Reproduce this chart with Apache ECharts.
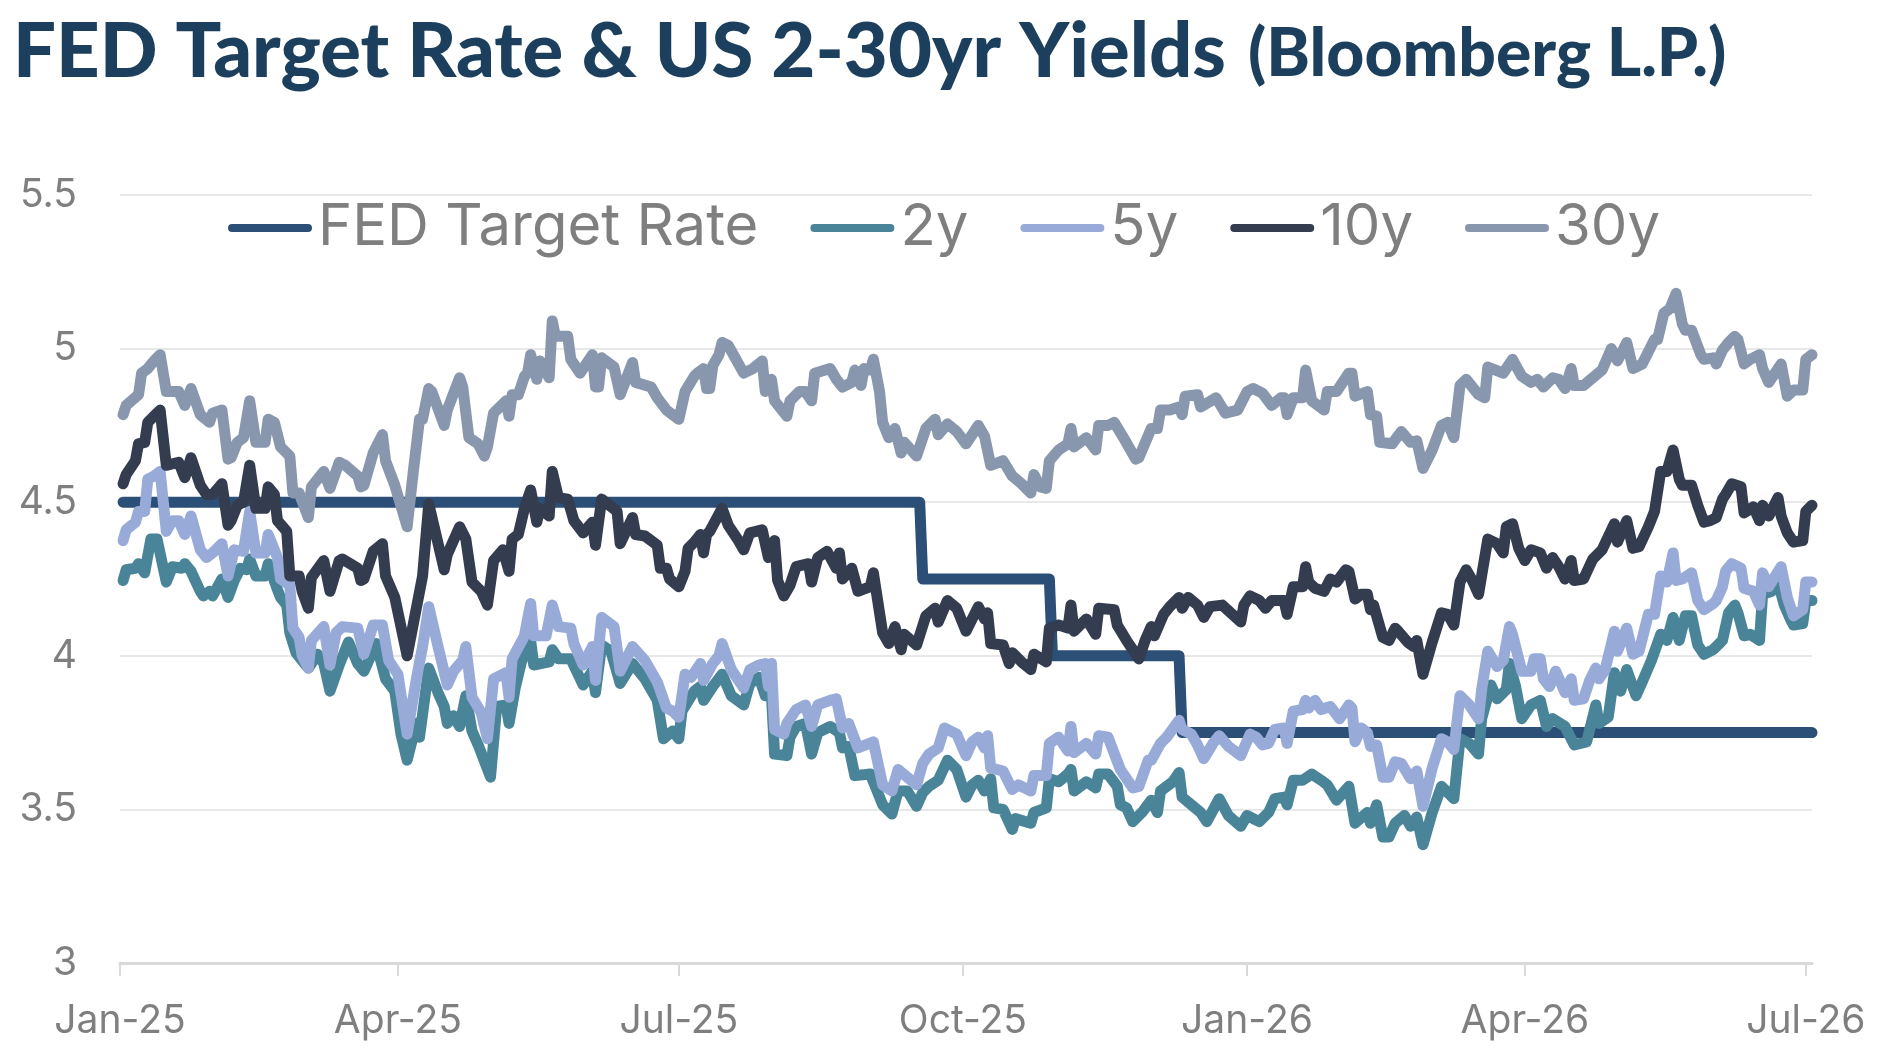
<!DOCTYPE html>
<html>
<head>
<meta charset="utf-8">
<title>FED Target Rate & US 2-30yr Yields</title>
<script src="https://cdn.jsdelivr.net/npm/echarts@6/dist/echarts.min.js"></script>
<style>
  html, body { margin: 0; padding: 0; background: #fff; }
  #chart { width: 1888px; height: 1064px; }
</style>
</head>
<body>
<div id="chart"></div>
<script>
// days counted from 1 Jan 2025, values in %
const fedRate = [[1,4.5],[259,4.5],[260,4.25],[301,4.25],[302,4.0],[343,4.0],[344,3.75],[548,3.75]]

const y2 = [
  [1,4.245],[2,4.28],[5,4.285],[6,4.30],[8,4.27],[10,4.38],[12,4.38],[15,4.24],[17,4.29],[20,4.285],[21,4.30],[23,4.275],[26,4.21],[27,4.195],[29,4.21],[30,4.195],[33,4.25],[35,4.19],[37,4.245],[39,4.285],[41,4.28],[42,4.315],[44,4.26],[47,4.26],[48,4.30],[51,4.215],[52,4.19],[54,4.165],[55,4.075],[57,4.01],[61,3.96],[64,4.005],[66,3.975],[68,3.885],[71,3.97],[74,4.045],[77,3.975],[79,3.95],[83,4.04],[86,3.925],[89,3.885],
  [91,3.745],[93,3.66],[96,3.78],[97,3.735],[100,3.96],[103,3.88],[105,3.835],[106,3.78],[108,3.805],[110,3.77],[112,3.87],[114,3.755],[116,3.71],[120,3.605],[122,3.835],[125,3.84],[126,3.78],[128,3.895],[130,3.98],[133,4.05],[134,3.97],[139,3.98],[140,4.02],[142,3.99],[146,3.99],[150,3.905],[153,3.95],[154,3.88],[156,4.035],[159,4.015],[162,3.91],[166,3.975],[170,3.925],[174,3.855],[176,3.73],[179,3.755],[181,3.73],[182,3.82],
  [186,3.885],[188,3.90],[189,3.855],[192,3.90],[195,3.94],[198,3.87],[202,3.84],[204,3.91],[207,3.93],[209,3.87],[211,3.87],[212,3.68],[216,3.675],[217,3.735],[219,3.77],[222,3.78],[224,3.68],[226,3.75],[230,3.77],[233,3.75],[234,3.70],[236,3.705],[238,3.61],[243,3.615],[247,3.515],[250,3.485],[252,3.56],[255,3.56],[258,3.51],[260,3.555],[262,3.575],[265,3.595],[268,3.66],[271,3.63],[274,3.54],[276,3.58],[278,3.595],
  [280,3.56],[282,3.60],[283,3.505],[286,3.50],[289,3.435],[290,3.47],[295,3.455],[296,3.49],[300,3.505],[301,3.60],[304,3.59],[307,3.615],[308,3.63],[309,3.56],[313,3.59],[316,3.57],[317,3.615],[320,3.615],[323,3.575],[324,3.515],[326,3.505],[328,3.46],[331,3.49],[334,3.53],[336,3.49],[337,3.56],[341,3.59],[343,3.62],[344,3.54],[347,3.515],[350,3.49],[352,3.46],[356,3.535],[359,3.48],[363,3.445],[365,3.48],[369,3.46],[372,3.49],
  [374,3.535],[377,3.54],[378,3.515],[380,3.595],[383,3.595],[386,3.615],[389,3.595],[391,3.58],[394,3.53],[398,3.575],[400,3.455],[404,3.49],[405,3.455],[407,3.515],[409,3.41],[411,3.41],[413,3.455],[416,3.48],[418,3.445],[420,3.475],[422,3.385],[425,3.49],[428,3.575],[432,3.535],[434,3.73],[437,3.715],[440,3.68],[441,3.795],[444,3.905],[446,3.86],[449,3.89],[450,3.975],[452,3.90],[454,3.795],[457,3.84],[460,3.855],[462,3.77],[464,3.795],
  [468,3.77],[471,3.71],[475,3.72],[478,3.84],[479,3.78],[482,3.80],[484,3.945],[486,3.885],[488,3.955],[491,3.87],[493,3.915],[496,3.985],[499,4.07],[501,4.05],[503,4.125],[505,4.05],[507,4.13],[509,4.13],[511,4.035],[513,4.005],[516,4.02],[518,4.04],[519,4.05],[521,4.14],[523,4.165],[524,4.14],[526,4.065],[528,4.07],[531,4.05],[532,4.20],[535,4.21],[537,4.24],[539,4.165],[541,4.12],[542,4.10],[545,4.105],[546,4.18],[548,4.18]
]

const y5 = [
  [1,4.375],[2,4.41],[5,4.435],[6,4.47],[8,4.47],[9,4.575],[11,4.585],[13,4.60],[15,4.405],[17,4.44],[19,4.44],[21,4.395],[23,4.455],[26,4.345],[28,4.32],[30,4.335],[33,4.365],[35,4.26],[37,4.345],[40,4.34],[42,4.47],[44,4.335],[47,4.335],[48,4.395],[51,4.32],[52,4.25],[55,4.23],[56,4.09],[58,4.06],[59,4.0],[61,3.96],[62,4.05],[66,4.095],[68,3.97],[70,4.075],[72,4.095],[77,4.09],[79,4.005],[82,4.10],[85,4.10],[87,3.985],[90,3.94],
  [93,3.745],[96,3.925],[98,4.03],[100,4.16],[103,4.03],[106,3.905],[108,3.95],[111,3.985],[112,4.03],[114,3.865],[117,3.815],[119,3.73],[121,3.925],[125,3.945],[126,3.865],[127,3.99],[131,4.065],[132,4.12],[133,4.17],[134,4.065],[138,4.065],[140,4.165],[142,4.095],[146,4.09],[147,4.04],[150,3.97],[152,4.01],[153,4.03],[154,3.92],[156,4.125],[160,4.095],[162,3.95],[166,4.03],[170,3.985],[174,3.915],[177,3.83],[179,3.82],[181,3.80],[183,3.94],
  [185,3.93],[188,3.975],[189,3.92],[192,3.975],[194,4.00],[195,4.04],[198,3.955],[202,3.895],[204,3.955],[207,3.97],[209,3.975],[210,3.90],[211,3.975],[212,3.76],[215,3.745],[216,3.78],[219,3.825],[222,3.84],[224,3.77],[226,3.84],[230,3.855],[232,3.86],[234,3.765],[236,3.78],[239,3.70],[244,3.72],[247,3.58],[250,3.56],[252,3.63],[255,3.605],[258,3.58],[260,3.65],[262,3.68],[265,3.70],[267,3.765],[271,3.745],[274,3.675],[276,3.72],[278,3.735],
  [280,3.70],[281,3.74],[282,3.635],[286,3.625],[289,3.565],[291,3.58],[295,3.56],[296,3.61],[300,3.61],[301,3.715],[304,3.735],[307,3.69],[308,3.77],[309,3.685],[313,3.715],[316,3.68],[317,3.74],[320,3.735],[324,3.63],[328,3.57],[330,3.575],[333,3.66],[334,3.66],[337,3.715],[339,3.735],[343,3.79],[344,3.76],[347,3.745],[349,3.71],[351,3.665],[354,3.715],[356,3.74],[359,3.705],[363,3.675],[366,3.745],[368,3.735],[370,3.71],[372,3.715],
  [374,3.76],[377,3.765],[378,3.715],[380,3.82],[383,3.825],[384,3.855],[385,3.83],[387,3.855],[389,3.825],[392,3.835],[395,3.795],[398,3.84],[399,3.83],[400,3.72],[402,3.765],[404,3.75],[405,3.705],[407,3.71],[409,3.605],[411,3.605],[413,3.655],[415,3.65],[418,3.60],[420,3.625],[422,3.51],[425,3.635],[428,3.73],[430,3.72],[432,3.695],[434,3.87],[437,3.84],[440,3.795],[441,3.89],[443,4.015],[446,3.965],[448,3.985],[450,4.095],[451,4.07],[454,3.95],[457,3.95],[458,3.99],[460,3.99],[461,3.925],[463,3.90],[465,3.95],
  [468,3.88],[470,3.925],[471,3.855],[474,3.86],[476,3.92],[478,3.96],[479,3.925],[481,3.955],[484,4.08],[485,4.015],[488,4.09],[490,4.005],[492,4.015],[495,4.135],[497,4.135],[499,4.26],[501,4.24],[503,4.335],[504,4.245],[506,4.25],[509,4.27],[511,4.18],[513,4.15],[516,4.17],[517,4.18],[519,4.225],[520,4.275],[522,4.30],[525,4.285],[526,4.22],[529,4.21],[531,4.165],[532,4.27],[534,4.225],[538,4.29],[540,4.19],[542,4.13],[545,4.15],[546,4.24],[548,4.24]
]

const y10 = [
  [1,4.56],[2,4.59],[5,4.635],[6,4.69],[8,4.695],[9,4.76],[11,4.78],[13,4.80],[15,4.62],[19,4.63],[21,4.58],[23,4.645],[26,4.555],[28,4.525],[30,4.525],[33,4.56],[35,4.425],[36,4.44],[38,4.49],[40,4.50],[42,4.62],[44,4.48],[47,4.48],[48,4.55],[50,4.525],[51,4.44],[54,4.405],[55,4.26],[58,4.26],[59,4.21],[61,4.155],[62,4.255],[66,4.31],[68,4.21],[71,4.31],[72,4.315],[77,4.285],[78,4.245],[79,4.25],[82,4.34],[85,4.365],[86,4.26],[89,4.19],
  [93,4.0],[98,4.26],[100,4.495],[105,4.28],[106,4.33],[110,4.42],[112,4.38],[114,4.24],[117,4.21],[119,4.165],[121,4.31],[124,4.345],[126,4.275],[127,4.38],[129,4.395],[131,4.48],[133,4.54],[135,4.435],[136,4.48],[139,4.455],[140,4.60],[142,4.515],[145,4.51],[147,4.44],[150,4.40],[153,4.435],[154,4.36],[156,4.51],[161,4.47],[162,4.365],[166,4.45],[167,4.395],[170,4.39],[174,4.36],[175,4.285],[177,4.285],[178,4.25],[181,4.225],[183,4.275],[184,4.35],
  [186,4.37],[188,4.395],[189,4.335],[190,4.395],[191,4.405],[195,4.48],[197,4.425],[200,4.38],[202,4.345],[204,4.40],[208,4.41],[210,4.32],[212,4.375],[213,4.245],[215,4.195],[217,4.23],[219,4.29],[223,4.30],[224,4.24],[226,4.32],[229,4.34],[232,4.285],[233,4.335],[234,4.25],[237,4.285],[239,4.21],[243,4.225],[244,4.27],[247,4.075],[249,4.04],[251,4.095],[253,4.02],[254,4.07],[258,4.035],[261,4.13],[264,4.155],[265,4.11],[268,4.18],[271,4.155],[274,4.08],[278,4.16],
  [280,4.12],[281,4.14],[282,4.04],[286,4.035],[288,3.975],[289,4.01],[292,3.98],[295,3.955],[296,4.005],[300,3.98],[301,4.09],[304,4.10],[307,4.09],[308,4.165],[309,4.08],[313,4.12],[316,4.07],[317,4.155],[322,4.15],[323,4.10],[326,4.05],[328,4.02],[330,3.99],[332,4.05],[334,4.095],[335,4.065],[338,4.135],[340,4.16],[343,4.19],[344,4.155],[346,4.19],[349,4.165],[351,4.125],[353,4.16],[357,4.165],[363,4.11],[364,4.165],[366,4.195],[369,4.18],[371,4.155],
  [373,4.18],[377,4.18],[378,4.135],[380,4.225],[383,4.225],[384,4.29],[385,4.24],[387,4.22],[390,4.21],[392,4.25],[394,4.24],[397,4.28],[398,4.275],[400,4.185],[402,4.20],[404,4.20],[405,4.15],[406,4.165],[409,4.06],[411,4.05],[413,4.09],[414,4.08],[417,4.045],[419,4.03],[420,4.05],[422,3.94],[425,4.045],[428,4.14],[430,4.135],[432,4.10],[434,4.24],[436,4.28],[438,4.245],[440,4.20],[441,4.26],[443,4.38],[446,4.365],[448,4.335],[449,4.42],[451,4.43],[453,4.35],[455,4.31],[457,4.345],[460,4.335],[462,4.285],[464,4.32],[466,4.29],
  [468,4.25],[470,4.31],[471,4.245],[474,4.25],[477,4.315],[480,4.345],[484,4.43],[485,4.37],[488,4.44],[490,4.35],[492,4.355],[495,4.42],[497,4.47],[499,4.60],[501,4.60],[503,4.67],[505,4.575],[506,4.555],[509,4.555],[511,4.49],[513,4.435],[515,4.44],[517,4.45],[519,4.51],[520,4.525],[522,4.56],[525,4.55],[526,4.465],[529,4.485],[531,4.44],[532,4.49],[534,4.455],[537,4.515],[538,4.455],[540,4.40],[542,4.37],[545,4.375],[546,4.47],[548,4.49]
]

const y30 = [
  [1,4.785],[2,4.815],[6,4.85],[7,4.92],[9,4.935],[11,4.96],[13,4.98],[15,4.86],[19,4.86],[21,4.815],[23,4.87],[26,4.785],[29,4.76],[30,4.79],[33,4.80],[35,4.64],[36,4.645],[38,4.695],[40,4.71],[42,4.83],[44,4.695],[47,4.695],[48,4.77],[50,4.76],[52,4.68],[55,4.65],[56,4.53],[58,4.53],[61,4.45],[62,4.55],[66,4.60],[68,4.545],[71,4.63],[73,4.62],[77,4.585],[78,4.55],[79,4.555],[82,4.66],[85,4.72],[86,4.635],[89,4.555],
  [93,4.42],[95,4.60],[97,4.77],[98,4.77],[100,4.87],[101,4.86],[105,4.75],[106,4.80],[110,4.905],[111,4.875],[113,4.71],[116,4.69],[118,4.65],[119,4.68],[121,4.79],[125,4.83],[126,4.78],[127,4.85],[129,4.85],[131,4.91],[132,4.92],[133,4.98],[135,4.90],[136,4.96],[139,4.905],[140,5.09],[141,5.04],[145,5.04],[146,4.965],[149,4.92],[153,4.98],[154,4.875],[155,4.875],[156,4.97],[160,4.94],[162,4.85],[166,4.955],[167,4.89],[172,4.875],[174,4.84],[177,4.80],[181,4.77],[183,4.86],
  [186,4.91],[187,4.92],[189,4.935],[190,4.87],[191,4.87],[192,4.945],[194,4.98],[195,5.02],[197,5.01],[202,4.92],[205,4.935],[208,4.96],[209,4.86],[211,4.90],[212,4.83],[216,4.78],[217,4.83],[220,4.86],[222,4.86],[224,4.83],[225,4.92],[230,4.935],[232,4.90],[234,4.875],[237,4.89],[238,4.93],[240,4.88],[241,4.935],[243,4.93],[244,4.965],[246,4.86],[247,4.76],[249,4.71],[251,4.74],[253,4.66],[254,4.695],[258,4.65],[261,4.74],[264,4.77],[265,4.72],[268,4.755],[271,4.73],[274,4.69],[278,4.75],
  [280,4.715],[282,4.62],[286,4.635],[289,4.585],[292,4.56],[295,4.53],[296,4.59],[298,4.55],[300,4.545],[301,4.635],[304,4.67],[307,4.69],[308,4.74],[309,4.68],[313,4.71],[316,4.67],[317,4.75],[320,4.75],[322,4.76],[325,4.71],[329,4.64],[330,4.645],[334,4.74],[336,4.74],[337,4.80],[340,4.80],[343,4.81],[344,4.785],[345,4.845],[349,4.85],[350,4.81],[355,4.84],[358,4.79],[362,4.80],[365,4.86],[367,4.87],[370,4.855],
  [373,4.815],[376,4.84],[377,4.84],[378,4.785],[380,4.84],[383,4.84],[384,4.93],[386,4.83],[390,4.80],[391,4.86],[394,4.86],[398,4.92],[399,4.92],[400,4.845],[404,4.86],[405,4.785],[407,4.78],[408,4.695],[412,4.69],[415,4.73],[418,4.695],[420,4.70],[422,4.61],[425,4.67],[428,4.75],[430,4.76],[432,4.71],[434,4.88],[436,4.90],[440,4.85],[442,4.84],[443,4.94],[448,4.92],[451,4.965],[454,4.91],[457,4.89],[459,4.90],[461,4.875],[464,4.905],[466,4.90],
  [468,4.87],[470,4.935],[471,4.88],[474,4.88],[477,4.905],[480,4.93],[483,5.00],[485,4.96],[488,5.02],[490,4.935],[493,4.95],[495,4.99],[497,5.03],[498,5.03],[500,5.115],[502,5.13],[504,5.18],[506,5.08],[507,5.06],[509,5.06],[512,4.98],[513,4.965],[516,4.97],[517,4.95],[519,4.995],[521,5.02],[523,5.04],[524,5.03],[526,4.95],[528,4.965],[531,4.98],[532,4.935],[534,4.89],[538,4.95],[540,4.845],[542,4.865],[545,4.865],[546,4.965],[548,4.98]
]

const seriesNames = ['FED Target Rate', '2y', '5y', '10y', '30y']
const tickDates = ['2025-01-01', '2025-04-01', '2025-07-01', '2025-10-01', '2026-01-01', '2026-04-01', '2026-07-01']
const tickLabels = ['Jan-25', 'Apr-25', 'Jul-25', 'Oct-25', 'Jan-26', 'Apr-26', 'Jul-26']

const COLORS = ['#2c4f77', '#4a8498', '#97aad8', '#343d4f', '#8897ae']
const GRAY = '#7f7f7f'
const FONT = 'Inter, "Noto Sans", sans-serif'

// x axis runs in days since 1 Jan 2025
const DAY0 = Date.UTC(2025, 0, 1)
const dayOf = s => { const [y, m, d] = s.split('-').map(Number); return Math.round((Date.UTC(y, m - 1, d) - DAY0) / 86400000) }
const tickDays = tickDates.map(dayOf)
const lastDay = 548

const chart = echarts.init(document.getElementById('chart'), null, { renderer: 'canvas' })

const pill = 'path://M4,0 L80,0 A4,4 0 0 1 80,8 L4,8 A4,4 0 0 1 4,0 Z'

chart.setOption({
  animation: false,
  color: COLORS,
  title: {
    text: '{a|FED Target Rate & US 2-30yr Yields}{b|(Bloomberg L.P.)}',
    left: 8,
    top: -5,
    textStyle: {
      rich: {
        a: { fontFamily: 'Lato', fontWeight: 900, fontSize: 76, color: '#1c3f5e', lineHeight: 90, verticalAlign: 'bottom' },
        b: { fontFamily: 'Lato', fontWeight: 900, fontSize: 66, color: '#1c3f5e', lineHeight: 90, verticalAlign: 'bottom', padding: [0, 0, 2, 22] }
      }
    }
  },
  legend: {
    top: 194,
    left: 'center',
    itemWidth: 84,
    itemHeight: 10,
    itemGap: 52,
    icon: pill,
    textStyle: { fontFamily: FONT, fontSize: 58, color: GRAY, padding: [0, 0, 0, 1] },
    data: seriesNames
  },
  grid: { left: 120, right: 76, top: 195, bottom: 101 },
  xAxis: {
    type: 'value',
    min: 0,
    max: lastDay,
    axisLine: { lineStyle: { color: '#d9d9d9', width: 3 } },
    axisTick: { show: true, length: 13, lineStyle: { color: '#d9d9d9', width: 2 }, customValues: tickDays },
    axisLabel: {
      customValues: tickDays,
      margin: 39,
      fontFamily: FONT,
      fontSize: 39,
      color: GRAY,
      formatter: v => tickLabels[tickDays.indexOf(v)] ?? ''
    },
    splitLine: { show: false }
  },
  yAxis: {
    type: 'value',
    min: 3,
    max: 5.5,
    interval: 0.5,
    axisLine: { show: false },
    axisTick: { show: false },
    axisLabel: { margin: 43, fontFamily: FONT, fontSize: 39, color: GRAY },
    splitLine: { lineStyle: { color: '#e8e8e8', width: 2 } }
  },
  series: [fedRate, y2, y5, y10, y30].map((arr, i) => ({
    name: seriesNames[i],
    type: 'line',
    symbol: 'none',
    data: arr,
    lineStyle: { width: 11, color: COLORS[i], cap: 'round', join: 'round' },
    itemStyle: { color: COLORS[i] }
  }))
})
</script>
</body>
</html>
